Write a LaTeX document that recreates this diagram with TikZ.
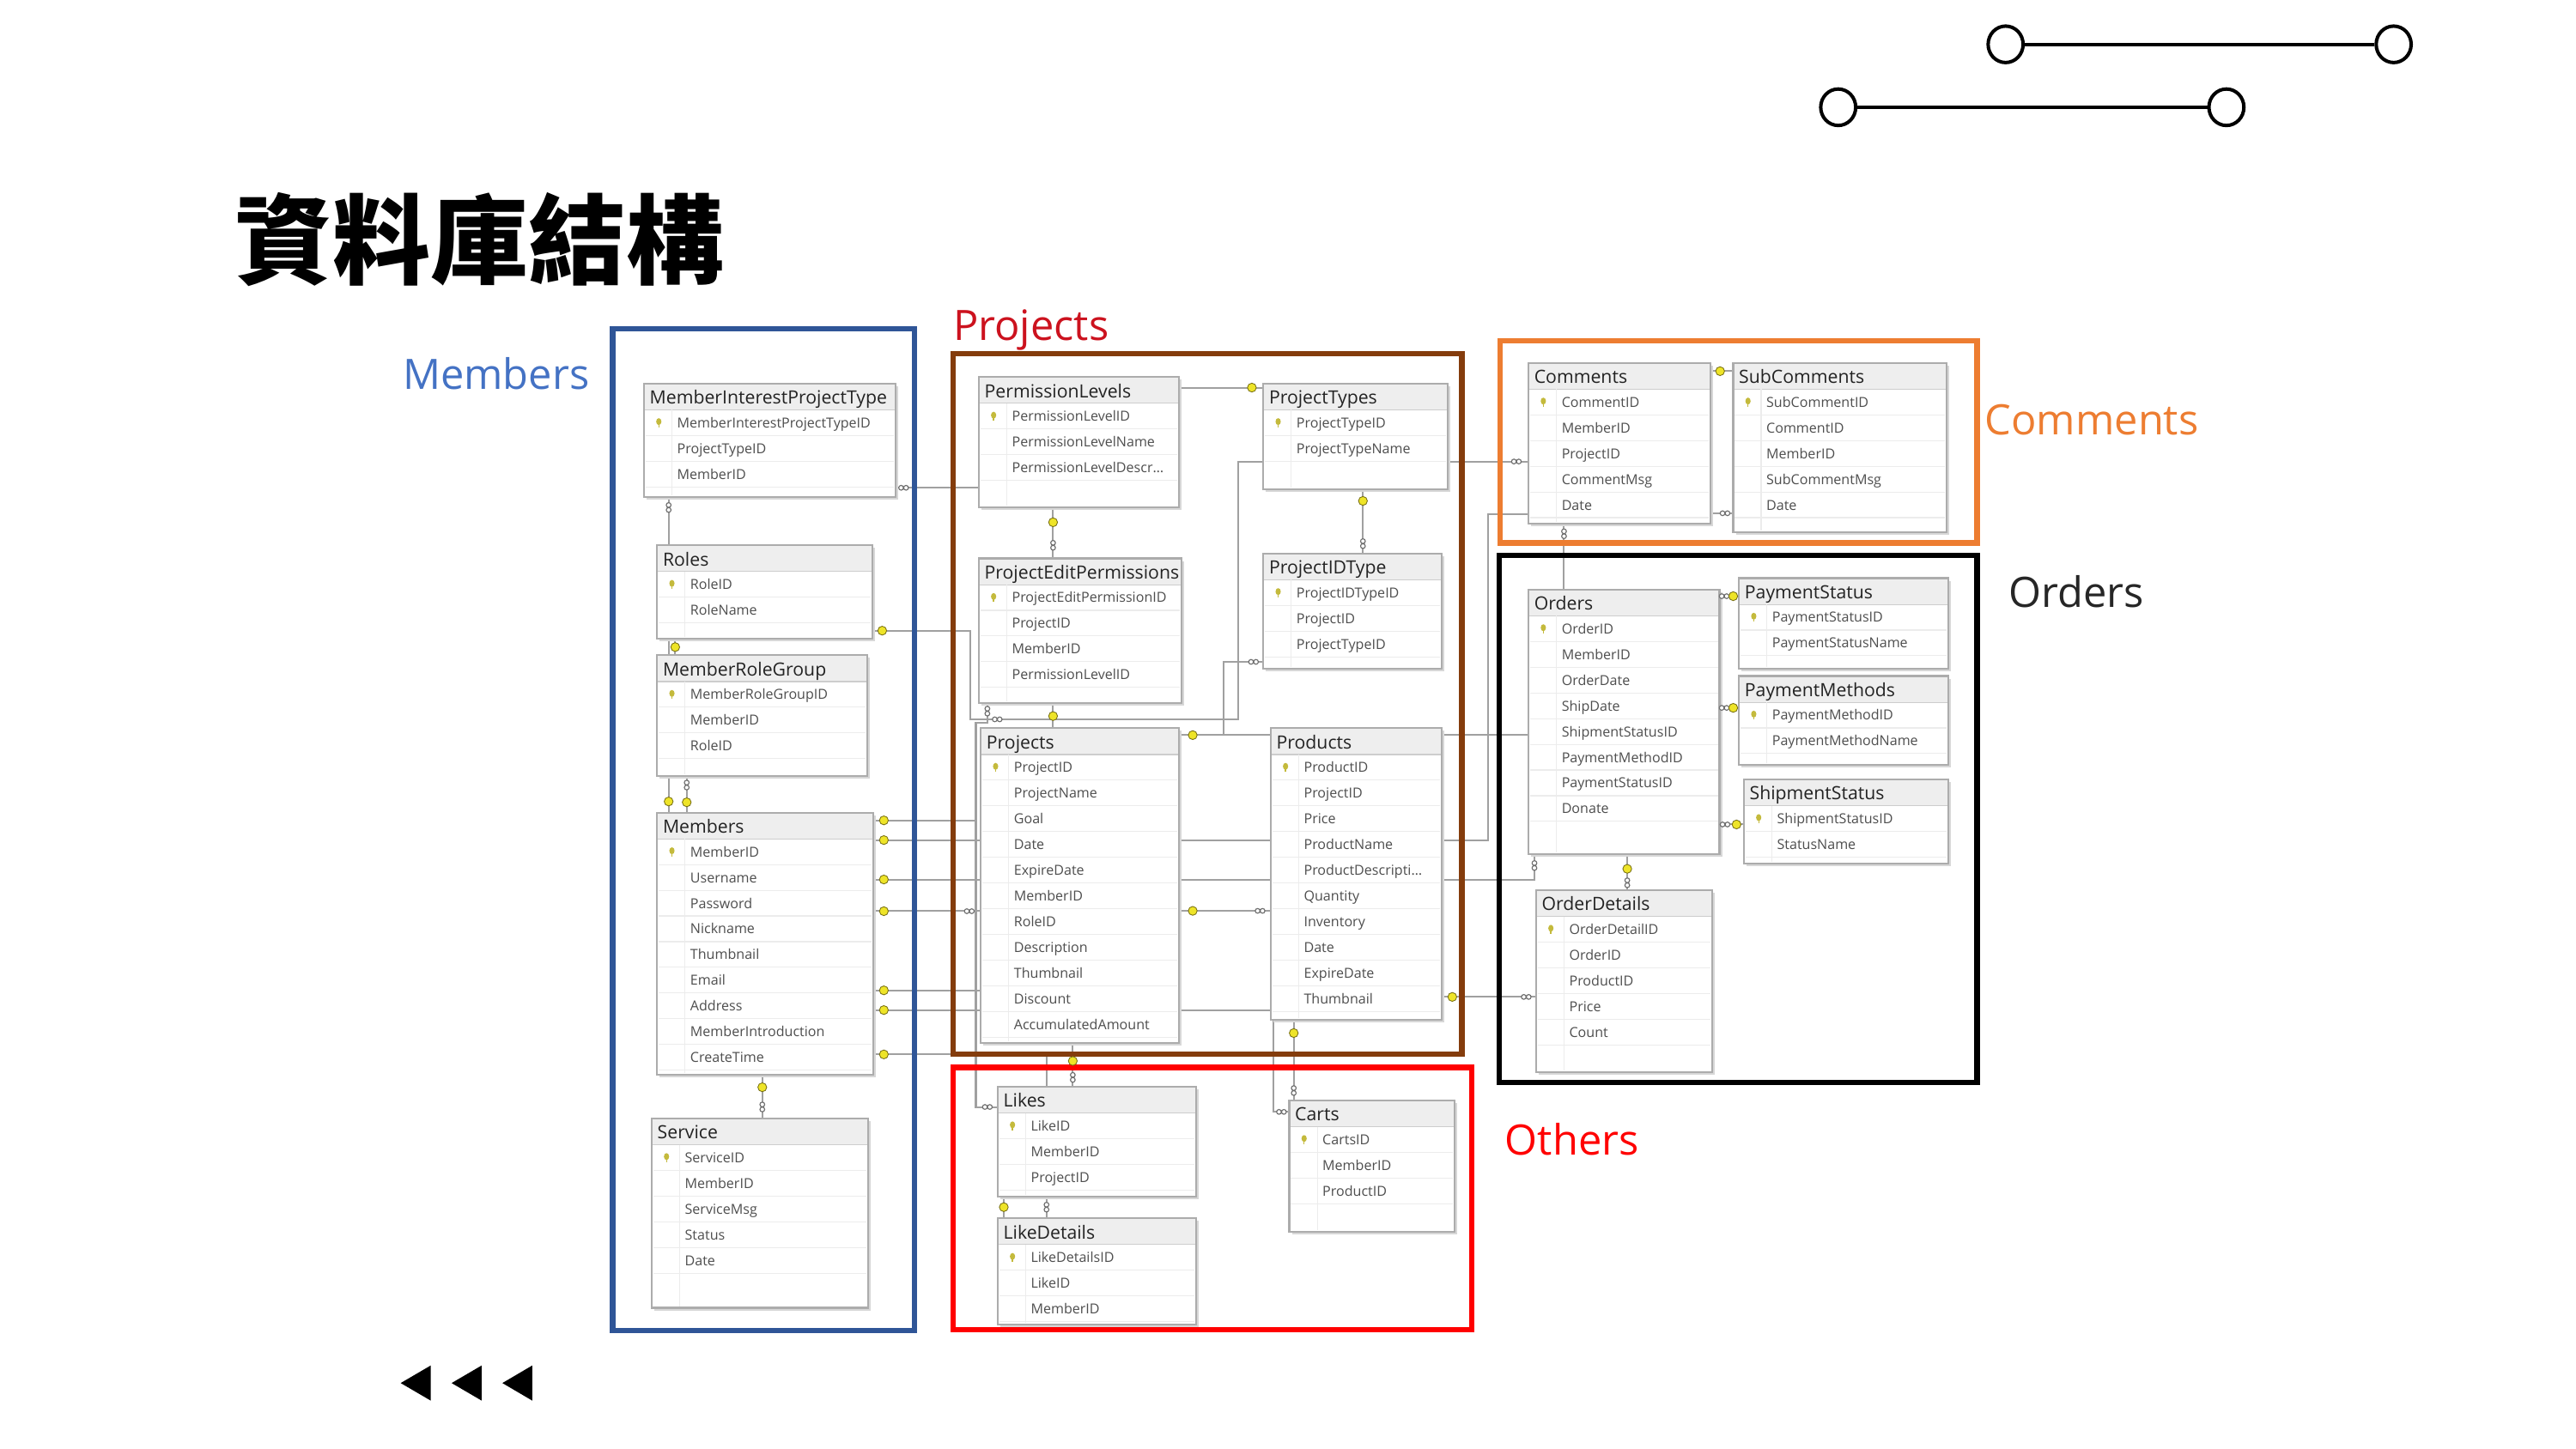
\documentclass[tikz,border=0pt]{standalone}
\usepackage{fontspec}
\setmainfont{Open Sans}
\newfontfamily\cjk{Noto Sans CJK TC}
\usetikzlibrary{shapes.geometric}
\pgfdeclarelayer{bg}\pgfdeclarelayer{conn}\pgfdeclarelayer{marks}
\pgfsetlayers{bg,conn,main,marks}
\definecolor{lineGray}{RGB}{160,160,160}
\definecolor{tblBorder}{RGB}{172,172,172}
\definecolor{tblShadow}{RGB}{215,215,215}
\definecolor{hdrFill}{RGB}{238,238,238}
\definecolor{hdrLine}{RGB}{205,205,205}
\definecolor{rowLine}{RGB}{236,236,236}
\definecolor{fieldText}{RGB}{78,78,78}
\definecolor{titleText}{RGB}{35,35,35}
\definecolor{keyYellow}{RGB}{238,228,40}
\definecolor{keyOlive}{RGB}{120,112,20}
\definecolor{pkYellow}{RGB}{196,186,60}
\definecolor{infGray}{RGB}{110,110,110}
\definecolor{grpBlue}{RGB}{47,85,151}
\definecolor{grpBrown}{RGB}{132,60,12}
\definecolor{grpOrange}{RGB}{237,125,49}
\definecolor{grpRed}{RGB}{255,0,0}
\definecolor{lblBlue}{RGB}{68,114,196}
\definecolor{lblRed}{RGB}{204,18,30}
\definecolor{lblBlack}{RGB}{38,38,38}
\tikzset{
  conn/.style={draw=lineGray, line width=1.05},
  tblnode/.style={rectangle, fill=white, draw=none, inner sep=0pt, outer sep=0pt},
  tblborder/.style={draw=tblBorder, line width=1.1},
  grpbox/.style={line width=3.3},
  fieldtext/.style={font=\fontsize{8.4}{10}\selectfont, text=fieldText, inner sep=0pt, anchor=base west},
  titletext/.style={font=\fontsize{11.1}{13}\selectfont, text=titleText, inner sep=0pt, anchor=base west},
  grplabel/.style={font=\fontsize{25.5}{30}\selectfont, inner sep=0pt, anchor=base west},
  infst/.style={draw=infGray, line width=0.6, fill=white},
  deccirc/.style={ellipse, draw=black, line width=2.1, fill=white, minimum width=21.3pt, minimum height=22.2pt, inner sep=0pt},
}
% #1 name, #2 left, #3 top, #4 right, #5 bottom, #6 title, #7 fields
\newcommand{\dbtable}[7]{%
  \fill[tblShadow] (#2+1.6,#3+1.6) rectangle (#4+1.6,#5+1.6);
  \node[tblnode, minimum width={(#4-#2)*1pt}, minimum height={(#5-#3)*1pt}, anchor=north west] (#1) at (#2,#3) {};
  \fill[hdrFill] (#2,#3) rectangle (#4,#3+16);
  \draw[hdrLine, line width=0.6] (#2,#3+16) -- (#4,#3+16);
  \draw[rowLine, line width=0.6] (#2+17,#3+16) -- (#2+17,#5-1);
  \node[titletext] at (#2+3.3,#3+12.5) {#6};
  \foreach \fld [count=\ii from 0] in {#7} {%
    \pgfmathsetmacro\ry{#3+23.8+15.65*\ii}
    \draw[rowLine, line width=0.6] (#2+1,\ry+7.8) -- (#4-1,\ry+7.8);
    \node[fieldtext] at (#2+20,\ry+3.1) {\fld};
  }
  \fill[pkYellow] (#2+9,#3+23.2) ellipse (1.6 and 2.1);
  \draw[pkYellow, line width=0.7] (#2+9,#3+24.5) -- (#2+9,#3+26.6);
  \draw[tblborder] (#1.north west) rectangle (#1.south east);
}
\newcommand{\kmark}[2]{\filldraw[fill=keyYellow, draw=keyOlive, line width=0.45] (#1,#2) circle (2.7);}
\newcommand{\infH}[2]{\draw[infst] (#1-1.5,#2) circle (1.45) (#1+1.5,#2) circle (1.45);}
\newcommand{\infV}[2]{\draw[infst] (#1,#2-1.5) circle (1.45) (#1,#2+1.5) circle (1.45);}

\begin{document}
\begin{tikzpicture}[x=1pt,y=-1pt]
\begin{pgfonlayer}{bg}
\fill[white] (0,0) rectangle (1568,882);
\end{pgfonlayer}
\useasboundingbox (0,0) rectangle (1568,882);

% title
\node[anchor=base west, inner sep=0pt, font=\cjk\bfseries\fontsize{59.5}{62}\selectfont] (title) at (143,168.6) {資料庫結構};

% decoration top right
\node[deccirc] (d1) at (1220.8,27) {};
\node[deccirc] (d2) at (1457,27) {};
\node[deccirc] (d3) at (1118.9,65.3) {};
\node[deccirc] (d4) at (1355.2,65.3) {};
\draw[black, line width=2] (d1) -- (d2);
\draw[black, line width=2] (d3) -- (d4);

% tables
\dbtable{tMIPT}{392}{233.5}{545}{302.7}{MemberInterestProjectType}{MemberInterestProjectTypeID,ProjectTypeID,MemberID}
\dbtable{tRoles}{400}{332}{531}{389}{Roles}{RoleID,RoleName}
\dbtable{tMRG}{400}{399}{528}{472.4}{MemberRoleGroup}{MemberRoleGroupID,MemberID,RoleID}
\dbtable{tMembers}{400}{494.8}{531.5}{654.4}{Members}{MemberID,Username,Password,Nickname,Thumbnail,Email,Address,MemberIntroduction,CreateTime}
\dbtable{tService}{396.7}{681}{528.5}{796.3}{Service}{ServiceID,MemberID,ServiceMsg,Status,Date}
\dbtable{tPL}{595.8}{229.6}{717.6}{309}{PermissionLevels}{PermissionLevelID,PermissionLevelName,PermissionLevelDescr…}
\dbtable{tPT}{769}{233.5}{881.4}{298}{ProjectTypes}{ProjectTypeID,ProjectTypeName}
\dbtable{tPEP}{595.8}{340}{719}{428.2}{ProjectEditPermissions}{ProjectEditPermissionID,ProjectID,MemberID,PermissionLevelID}
\dbtable{tPIDT}{769}{337}{877.7}{407.3}{ProjectIDType}{ProjectIDTypeID,ProjectID,ProjectTypeID}
\dbtable{tProjects}{597}{443.4}{717.6}{635}{Projects}{ProjectID,ProjectName,Goal,Date,ExpireDate,MemberID,RoleID,Description,Thumbnail,Discount,AccumulatedAmount}
\dbtable{tProducts}{773.5}{443.4}{877.5}{621}{Products}{ProductID,ProjectID,Price,ProductName,ProductDescripti…,Quantity,Inventory,Date,ExpireDate,Thumbnail}
\dbtable{tLikes}{607.3}{661.7}{728}{728.8}{Likes}{LikeID,MemberID,ProjectID}
\dbtable{tLD}{607.3}{741.8}{728}{806.5}{LikeDetails}{LikeDetailsID,LikeID,MemberID}
\dbtable{tCarts}{784.8}{670}{885.6}{749.8}{Carts}{CartsID,MemberID,ProductID}
\dbtable{tComments}{930.4}{221}{1041}{319}{Comments}{CommentID,MemberID,ProjectID,CommentMsg,Date}
\dbtable{tSub}{1055}{221}{1185}{324}{SubComments}{SubCommentID,CommentID,MemberID,SubCommentMsg,Date}
\dbtable{tOrders}{930.4}{359}{1046.6}{520}{Orders}{OrderID,MemberID,OrderDate,ShipDate,ShipmentStatusID,PaymentMethodID,PaymentStatusID,Donate}
\dbtable{tPS}{1058.5}{352}{1185.7}{407}{PaymentStatus}{PaymentStatusID,PaymentStatusName}
\dbtable{tPM}{1058.5}{411.6}{1185.7}{465.7}{PaymentMethods}{PaymentMethodID,PaymentMethodName}
\dbtable{tSS}{1061.5}{474.6}{1186}{525.6}{ShipmentStatus}{ShipmentStatusID,StatusName}
\dbtable{tOD}{935}{542}{1042}{653}{OrderDetails}{OrderDetailID,OrderID,ProductID,Price,Count}

% connectors (below tables)
\begin{pgfonlayer}{conn}
\draw[conn] (tMIPT.south -| 407,0) -- (tMembers.north -| 407,0);
\draw[conn] (tRoles.south -| 411,0) -- (tMRG.north -| 411,0);
\draw[conn] (tMRG.south -| 418,0) -- (tMembers.north -| 418,0);
\draw[conn] (tMembers.south -| 464,0) -- (tService.north -| 464,0);
\draw[conn] (tMIPT.east |- 0,297) -- (660,297) -- (660,236) -- (tPT.west |- 0,236);
\draw[conn] (tRoles.east |- 0,384) -- (590.5,384) -- (590.5,438) -- (753.5,438) -- (753.5,281) -- (tComments.west |- 0,281);
\draw[conn] (tMembers.east |- 0,499.5) -- (594,499.5) -- (594,440) -- (601,440) -- (tPEP.south -| 601,0);
\draw[conn] (tMembers.east |- 0,499.5) -- (594,499.5) -- (594,674) -- (tLikes.west |- 0,674);
\draw[conn] (tMembers.east |- 0,511.5) -- (906,511.5) -- (906,313) -- (tComments.west |- 0,313);
\draw[conn] (tMembers.east |- 0,535.5) -- (934,535.5) -- (tOrders.south -| 934,0);
\draw[conn] (tMembers.east |- 0,554.8) -- (tProjects.west |- 0,554.8);
\draw[conn] (tMembers.east |- 0,603) -- (tProjects.west |- 0,603);
\draw[conn] (tMembers.east |- 0,615) -- (775,615) -- (775,677) -- (tCarts.west |- 0,677);
\draw[conn] (tMembers.east |- 0,642) -- (637,642) -- (tLD.north -| 637,0);
\draw[conn] (tProjects.south -| 653,0) -- (tLikes.north -| 653,0);
\draw[conn] (tLikes.south -| 611,0) -- (tLD.north -| 611,0);
\draw[conn] (tPL.south -| 641,0) -- (tPEP.north -| 641,0);
\draw[conn] (tPEP.south -| 641,0) -- (tProjects.north -| 641,0);
\draw[conn] (tPT.south -| 829.6,0) -- (tPIDT.north -| 829.6,0);
\draw[conn] (tProjects.east |- 0,447.6) -- (tOrders.west |- 0,447.6);
\draw[conn] (tProjects.east |- 0,447.6) -- (744.8,447.6) -- (744.8,403) -- (tPIDT.west |- 0,403);
\draw[conn] (tProjects.east |- 0,554.6) -- (tProducts.west |- 0,554.6);
\draw[conn] (tProducts.south -| 787.5,0) -- (tCarts.north -| 787.5,0);
\draw[conn] (tProducts.east |- 0,607) -- (tOD.west |- 0,607);
\draw[conn] (tComments.south -| 952,0) -- (tOrders.north -| 952,0);
\draw[conn] (tComments.east |- 0,226) -- (tSub.west |- 0,226);
\draw[conn] (tComments.east |- 0,312.5) -- (tSub.west |- 0,312.5);
\draw[conn] (tOrders.east |- 0,363) -- (tPS.west |- 0,363);
\draw[conn] (tOrders.east |- 0,431) -- (tPM.west |- 0,431);
\draw[conn] (tOrders.east |- 0,502) -- (tSS.west |- 0,502);
\draw[conn] (tOrders.south -| 990.5,0) -- (tOD.north -| 990.5,0);
\end{pgfonlayer}

% group frames
\draw[grpbox, grpBlue] (372.9,200.3) rectangle (556.6,810);
\draw[grpbox, grpBrown] (580.3,215.2) rectangle (889.8,642);
\draw[grpbox, grpOrange] (913,207.6) rectangle (1203.5,330.6);
\draw[grpbox, black] (912.5,338) rectangle (1203.5,659);
\draw[grpbox, grpRed] (580,650) rectangle (896,809.6);

% group labels
\node[grplabel, text=lblBlue] (lMembers) at (245,237) {Members};
\node[grplabel, text=lblRed] (lProjects) at (580,207.3) {Projects};
\node[grplabel, text=grpOrange] (lComments) at (1208,264.6) {Comments};
\node[grplabel, text=lblBlack] (lOrders) at (1222.5,369.6) {Orders};
\node[grplabel, text=grpRed] (lOthers) at (916,703) {Others};

% nav triangles
\fill[black] (262.2,831.4) -- (262.2,852.8) -- (243.9,842.1) -- cycle;
\fill[black] (293.2,831.4) -- (293.2,852.8) -- (274.9,842.1) -- cycle;
\fill[black] (324.0,831.4) -- (324.0,852.8) -- (305.8,842.1) -- cycle;

% relationship end marks
\begin{pgfonlayer}{marks}
\infV{407}{309} \kmark{407}{488}
\kmark{411}{394}
\infV{418}{478} \kmark{418}{488.5}
\kmark{464}{662} \infV{464}{674}
\infH{550}{297} \kmark{762}{236}
\kmark{537}{384} \infH{923}{281} \infH{607}{438}
\kmark{538}{499.5} \infV{601}{433}
\infH{601}{674}
\kmark{538}{511.5}
\kmark{538}{535.5} \infV{934}{527}
\kmark{538}{554.8} \infH{590}{554.8}
\kmark{538}{603}
\kmark{538}{615} \infH{780}{677}
\kmark{538}{642} \infV{637}{735}
\kmark{653}{646} \infV{653}{656}
\kmark{611}{735}
\kmark{641}{318} \infV{641}{332}
\kmark{641}{436}
\kmark{829.6}{305} \infV{829.6}{331}
\kmark{726}{447.6} \infH{763}{403}
\kmark{726}{554.6} \infH{767}{554.6}
\kmark{787.5}{629} \infV{787.5}{664}
\kmark{884}{607} \infH{929}{607}
\infV{952}{325}
\kmark{1047}{226}
\infH{1050}{312.5}
\infH{1049.5}{363} \kmark{1055}{363}
\infH{1049.5}{431} \kmark{1055}{431}
\infH{1050}{502} \kmark{1057}{502}
\kmark{990.5}{529} \infV{990.5}{537.5}
\end{pgfonlayer}
\end{tikzpicture}
\end{document}
